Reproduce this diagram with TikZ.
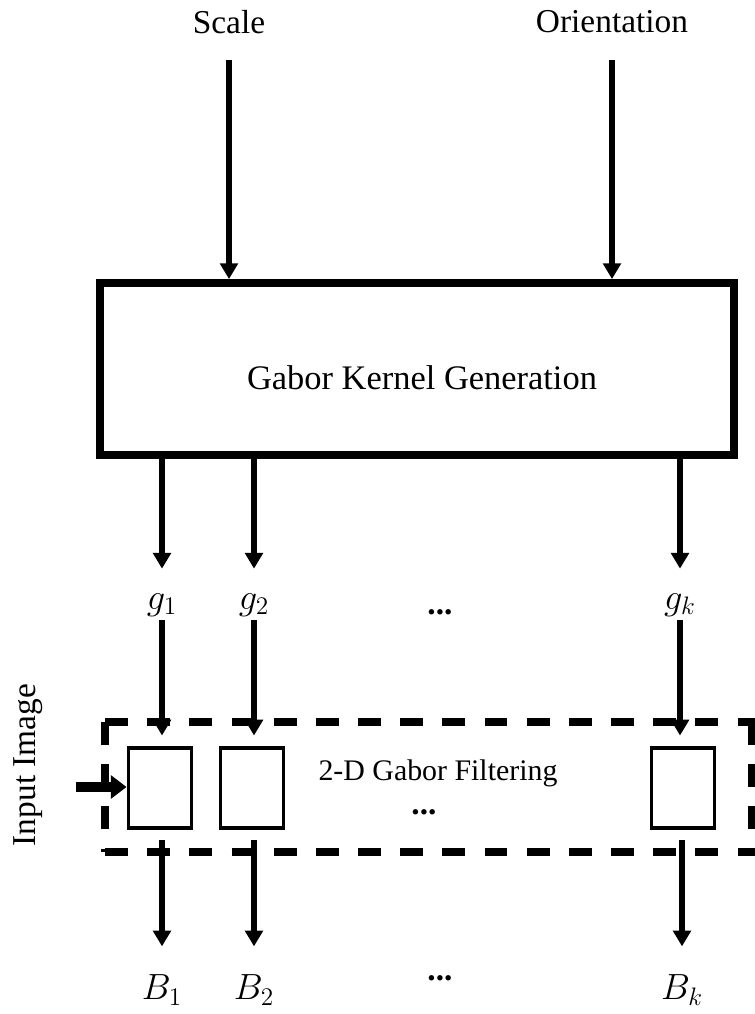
\documentclass[tikz,border=0pt]{standalone}
\usepackage{fontspec}
\setmainfont{Liberation Serif}
\usetikzlibrary{arrows.meta}
\tikzset{
  arr/.style={line width=3.2pt,-{Triangle[length=9pt,width=10pt]}},
  filt/.style={draw,line width=2.2pt,minimum width=1.26cm,minimum height=1.6cm,inner sep=0pt},
  lbl/.style={font=\fontsize{19}{23}\selectfont,inner sep=2pt},
  mlbl/.style={font=\fontsize{21}{25}\selectfont,inner sep=2pt}
}
\begin{document}
\begin{tikzpicture}[x=0.02cm,y=-0.02cm]
\useasboundingbox (0,0) rectangle (754,1014);
\node[lbl] (scale) at (229,22) {Scale};
\node[lbl] (orient) at (612,22) {Orientation};
\node[draw,line width=4.5pt,minimum width=12.7cm,minimum height=3.44cm] (kernel) at (417,369) {};
\node[font=\fontsize{19.6}{24}\selectfont] (kernellbl) at (422,378) {Gabor Kernel Generation};
\draw[arr,shorten <=13pt] (scale.south) -- (scale |- kernel.north);
\draw[arr,shorten <=13pt] (orient.south) -- (orient |- kernel.north);
\node[mlbl] (g1) at (162,605) {$g_1$};
\node[mlbl] (g2) at (254,605) {$g_2$};
\node[lbl] (gd) at (440,612) {\textbf{...}};
\node[mlbl] (gk) at (680,605) {$g_k$};
\draw[arr,shorten >=12pt] (kernel.south -| g1) -- (g1);
\draw[arr,shorten >=12pt] (kernel.south -| g2) -- (g2);
\draw[arr,shorten >=12pt] (kernel.south -| gk) -- (gk);
\draw[line width=4.3pt,dash pattern=on 13pt off 11pt] (105,722) -- (758,722);
\draw[line width=4.3pt,dash pattern=on 13pt off 11pt] (105,852) -- (758,852);
\draw[line width=4.3pt,dash pattern=on 13pt off 11pt] (105,722) -- (105,852);
\draw[line width=4.3pt,dash pattern=on 13pt off 11pt] (752,722) -- (752,852);
\node[filt] (b1) at (160,788) {};
\node[filt] (b2) at (252,788) {};
\node[filt] (bk) at (683,788) {};
\node[font=\fontsize{17}{20}\selectfont] (filtering) at (438,773) {2-D Gabor Filtering};
\node[lbl] (fd) at (424,812) {\textbf{...}};
\draw[arr,shorten >=6pt] (g1) -- (g1 |- b1.north);
\draw[arr,shorten >=6pt] (g2) -- (g2 |- b2.north);
\draw[arr,shorten >=6pt] (gk) -- (gk |- bk.north);
\node[lbl,rotate=90] (input) at (28,765) {Input Image};
\coordinate (inp) at (76,787);
\draw[line width=6pt,-{Triangle[length=9pt,width=13pt]}] (inp) -- (b1.west |- inp);
\node[mlbl] (B1) at (162,990) {$B_1$};
\node[mlbl] (B2) at (254,990) {$B_2$};
\node[lbl] (Bd) at (440,978) {\textbf{...}};
\node[mlbl] (Bk) at (682,990) {$B_k$};
\draw[arr,shorten <=6pt,shorten >=14pt] (b1.south -| B1) -- (B1);
\draw[arr,shorten <=6pt,shorten >=14pt] (b2.south -| B2) -- (B2);
\draw[arr,shorten <=6pt,shorten >=14pt] (bk.south -| Bk) -- (Bk);
\end{tikzpicture}
\end{document}
